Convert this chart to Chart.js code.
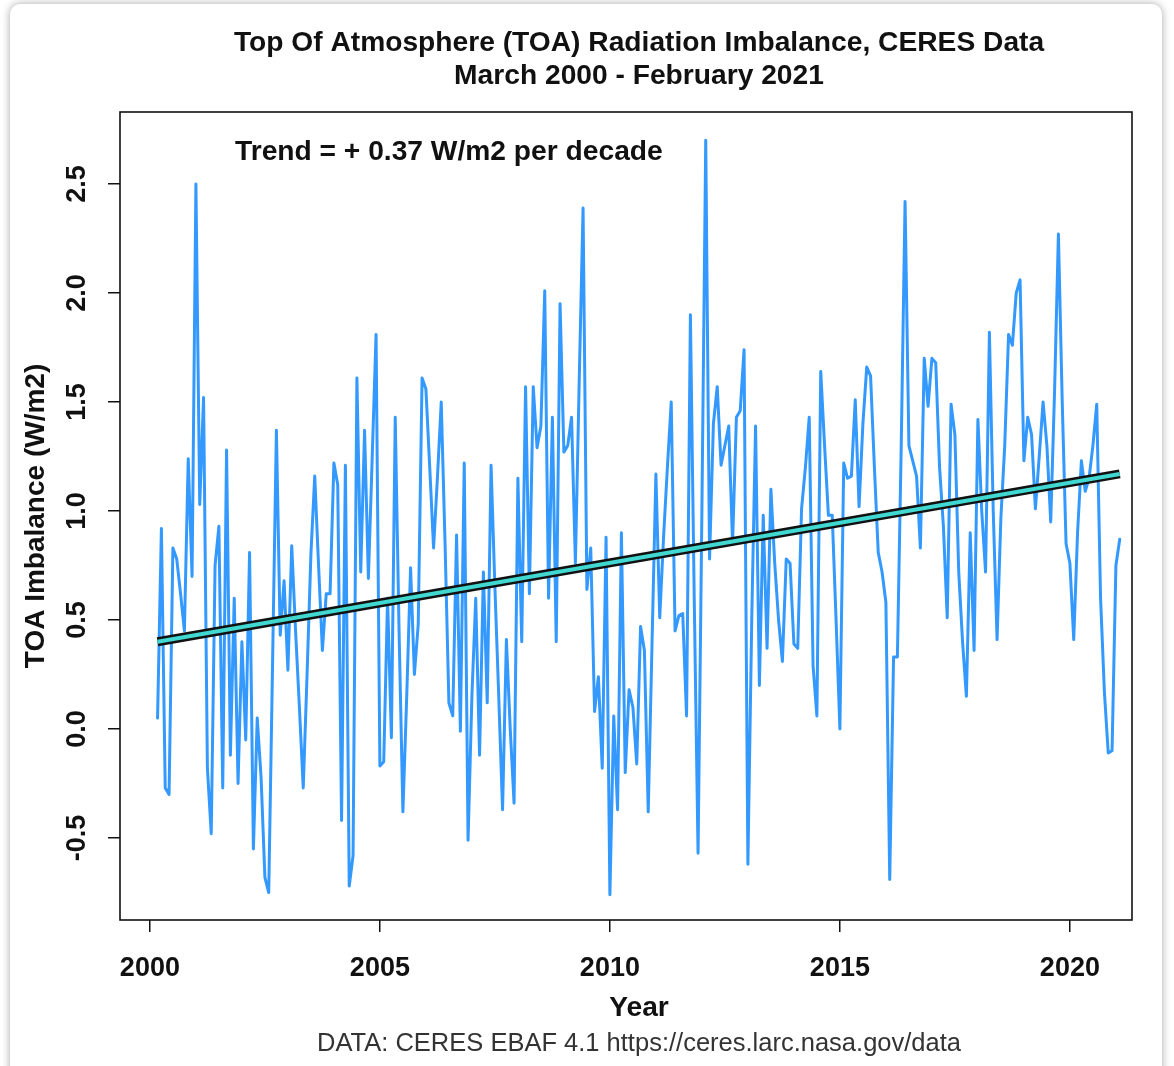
<!DOCTYPE html>
<html lang="en">
<head>
  <meta charset="UTF-8" />
  <title>TOA Radiation Imbalance, CERES Data</title>
  <script src="https://cdn.jsdelivr.net/npm/chart.js"></script>
  <style>
    html, body {
      margin: 0;
      padding: 0;
      background: #fff;
    }
    .frame {
      position: relative;
      width: 1174px;
      height: 1066px;
      overflow: hidden;
      background: #fff;
    }
    .card {
      position: absolute;
      left: 10px;
      top: 4px;
      width: 1152px;
      height: 1100px;
      border-radius: 10px;
      background: #fff;
      box-shadow: 0 0 9px rgba(0, 0, 0, 0.35);
    }
    canvas {
      position: absolute;
      left: 0;
      top: 0;
    }
  </style>
</head>
<body>
  <div class="frame">
    <div class="card"></div>
    <canvas id="toaChart" width="1174" height="1066"></canvas>
  </div>

  <script>
    // monthly series, March 2000 .. February 2021
    const startYear = 2000;
    const startMonth = 3;
    const toaValues = [
      0.05, 0.92, -0.27, -0.30, 0.83, 0.78, 0.62, 0.45, 1.24, 0.70,                 // 2000
      2.50, 1.03, 1.52, -0.18, -0.48, 0.75, 0.93, -0.27, 1.28, -0.12, 0.60, -0.25,  // 2001
      0.40, -0.05, 0.81, -0.55, 0.05, -0.22, -0.68, -0.75, 0.30, 1.37, 0.43, 0.68,  // 2002
      0.27, 0.84, 0.45, 0.10, -0.27, 0.25, 0.80, 1.16, 0.75, 0.36, 0.62, 0.62,      // 2003
      1.22, 1.12, -0.42, 1.21, -0.72, -0.58, 1.61, 0.72, 1.37, 0.69, 1.25, 1.81,    // 2004
      -0.17, -0.15, 0.60, -0.04, 1.43, 0.45, -0.38, 0.15, 0.74, 0.25, 0.48, 1.61,   // 2005
      1.56, 1.20, 0.83, 1.15, 1.50, 0.85, 0.12, 0.06, 0.89, -0.01, 1.22, -0.51,     // 2006
      0.15, 0.60, -0.12, 0.72, 0.12, 1.21, 0.65, 0.15, -0.37, 0.41, 0.00, -0.34,    // 2007
      1.15, 0.40, 1.57, 0.62, 1.57, 1.29, 1.39, 2.01, 0.60, 1.43, 0.40, 1.95,       // 2008
      1.27, 1.30, 1.43, 0.76, 1.60, 2.39, 0.64, 0.83, 0.08, 0.24, -0.18, 0.88,      // 2009
      -0.76, 0.06, -0.37, 0.90, -0.20, 0.18, 0.10, -0.16, 0.47, 0.36, -0.38, 0.40,  // 2010
      1.17, 0.51, 0.88, 1.20, 1.50, 0.45, 0.52, 0.53, 0.06, 1.90, 0.60, -0.57,      // 2011
      1.00, 2.70, 0.78, 1.40, 1.57, 1.21, 1.30, 1.39, 0.85, 1.43, 1.46, 1.74,       // 2012
      -0.62, 0.50, 1.39, 0.20, 0.98, 0.37, 1.10, 0.76, 0.50, 0.31, 0.78, 0.76,      // 2013
      0.39, 0.37, 1.01, 1.20, 1.43, 0.29, 0.06, 1.64, 1.30, 0.98, 0.98, 0.50,       // 2014
      0.00, 1.22, 1.15, 1.16, 1.51, 1.02, 1.40, 1.66, 1.62, 1.20, 0.81, 0.72,       // 2015
      0.58, -0.69, 0.33, 0.33, 1.30, 2.42, 1.30, 1.23, 1.16, 0.83, 1.70, 1.48,      // 2016
      1.70, 1.68, 1.20, 0.93, 0.51, 1.49, 1.35, 0.72, 0.40, 0.15, 0.90, 0.36,       // 2017
      1.42, 1.00, 0.72, 1.82, 1.00, 0.41, 0.97, 1.30, 1.81, 1.76, 2.00, 2.06,       // 2018
      1.23, 1.43, 1.35, 1.01, 1.25, 1.50, 1.30, 0.95, 1.55, 2.27, 1.50, 0.85,       // 2019
      0.76, 0.41, 0.90, 1.23, 1.09, 1.15, 1.30, 1.49, 0.60, 0.17, -0.11, -0.10,     // 2020
      0.75, 0.87                                                                    // 2021
    ];
    // fitted trend at first and last month
    const trendValues = [0.40, 1.17];

    const xTicks = [2000, 2005, 2010, 2015, 2020];
    const yTicks = [-0.5, 0.0, 0.5, 1.0, 1.5, 2.0, 2.5];

    const titleLines = ['Top Of Atmosphere (TOA) Radiation Imbalance, CERES Data', 'March 2000 - February 2021'];
    const trendNote = 'Trend = + 0.37 W/m2 per decade';
    const yTitle = 'TOA Imbalance (W/m2)';
    const xTitle = 'Year';
    const footNote = 'DATA: CERES EBAF 4.1 https://ceres.larc.nasa.gov/data';

    // decimal year of each month
    const monthYears = toaValues.map((v, i) => startYear + (startMonth - 1 + i) / 12);
    const seriesPoints = toaValues.map((v, i) => ({ x: monthYears[i], y: v }));
    const trendPoints = [
      { x: monthYears[0], y: trendValues[0] },
      { x: monthYears[monthYears.length - 1], y: trendValues[1] }
    ];

    const FONT = '"Liberation Sans", Arial, Helvetica, sans-serif';
    const CENTER_X = 639;

    const textLayer = {
      id: 'textLayer',
      afterDraw(chart) {
        const ctx = chart.ctx;
        const area = chart.chartArea;
        const yScale = chart.scales.y;
        ctx.save();

        // plot box
        ctx.strokeStyle = '#111';
        ctx.lineWidth = 1.6;
        ctx.strokeRect(area.left, area.top, area.right - area.left, area.bottom - area.top);

        ctx.fillStyle = '#111';
        ctx.textBaseline = 'middle';

        // title
        ctx.font = 'bold 28.2px ' + FONT;
        ctx.textAlign = 'center';
        ctx.fillText(titleLines[0], CENTER_X, 43);
        ctx.fillText(titleLines[1], CENTER_X, 76);

        // trend note
        ctx.textAlign = 'left';
        ctx.fillText(trendNote, area.left + 115, area.top + 40);

        // x title
        ctx.textAlign = 'center';
        ctx.fillText(xTitle, CENTER_X, 1008);

        // y tick labels (rotated, as R draws them)
        ctx.font = 'bold 27px ' + FONT;
        yTicks.forEach(v => {
          const py = yScale.getPixelForValue(v);
          ctx.save();
          ctx.translate(78, py);
          ctx.rotate(-Math.PI / 2);
          ctx.fillText(v.toFixed(1), 0, 0);
          ctx.restore();
        });

        // y title
        ctx.font = 'bold 28px ' + FONT;
        ctx.save();
        ctx.translate(36, (area.top + area.bottom) / 2);
        ctx.rotate(-Math.PI / 2);
        ctx.fillText(yTitle, 0, 0);
        ctx.restore();

        // footer
        ctx.font = '25.5px ' + FONT;
        ctx.fillStyle = '#333';
        ctx.fillText(footNote, CENTER_X, 1044);

        ctx.restore();
      }
    };

    new Chart(document.getElementById('toaChart'), {
      type: 'line',
      data: {
        datasets: [
          {
            label: 'trend centre',
            data: trendPoints,
            borderColor: '#40D8D0',
            borderWidth: 4,
            pointRadius: 0,
            order: 0
          },
          {
            label: 'trend',
            data: trendPoints,
            borderColor: '#111',
            borderWidth: 9,
            pointRadius: 0,
            order: 1
          },
          {
            label: 'TOA imbalance',
            data: seriesPoints,
            borderColor: '#3399FF',
            borderWidth: 3,
            pointRadius: 0,
            tension: 0,
            borderJoinStyle: 'round',
            borderCapStyle: 'round',
            order: 2
          }
        ]
      },
      options: {
        responsive: false,
        animation: false,
        devicePixelRatio: 1,
        layout: { padding: { top: 112, right: 42, left: 0, bottom: 0 } },
        plugins: {
          legend: { display: false },
          tooltip: { enabled: false }
        },
        scales: {
          x: {
            type: 'linear',
            min: 1999.35,
            max: 2021.35,
            afterBuildTicks: s => { s.ticks = xTicks.map(v => ({ value: v })); },
            afterFit: s => { s.height = 146; },
            grid: { drawOnChartArea: false, drawTicks: true, tickLength: 12, color: '#111', lineWidth: 1.5 },
            border: { display: false },
            ticks: {
              font: { family: FONT, size: 27, weight: 'bold' },
              color: '#111',
              padding: 20,
              maxRotation: 0,
              callback: v => String(v)
            }
          },
          y: {
            type: 'linear',
            min: -0.876,
            max: 2.83,
            afterBuildTicks: s => { s.ticks = yTicks.map(v => ({ value: v })); },
            afterFit: s => { s.width = 120; },
            grid: { drawOnChartArea: false, drawTicks: true, tickLength: 12, color: '#111', lineWidth: 1.5 },
            border: { display: false },
            ticks: { display: false }
          }
        }
      },
      plugins: [textLayer]
    });
  </script>
</body>
</html>
